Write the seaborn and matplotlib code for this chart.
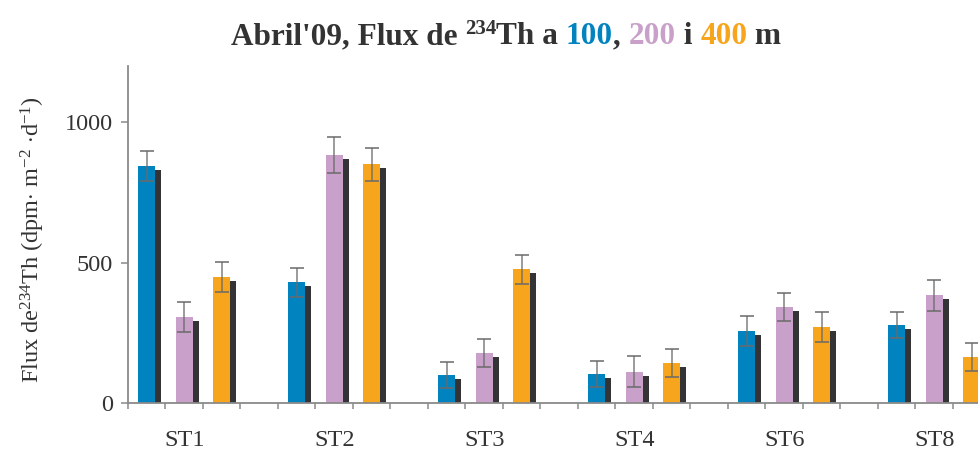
import numpy as np
import pandas as pd
import matplotlib
matplotlib.use("Agg")
import matplotlib.pyplot as plt
import matplotlib.patheffects as pe
import seaborn as sns

# data (dpm m-2 d-1)
stations = ["ST1", "ST2", "ST3", "ST4", "ST6", "ST8"]
depths = ["100", "200", "400"]
flux_100 = [845, 430, 100, 105, 258, 278]
flux_200 = [308, 885, 180, 113, 342, 384]
flux_400 = [450, 850, 477, 143, 272, 165]
err_100 = [54, 53, 46, 46, 53, 46]
err_200 = [53, 64, 50, 54, 50, 54]
err_400 = [53, 58, 52, 50, 53, 50]

colors = ["#0083BF", "#C9A0C9", "#F7A51C"]
shadow_col = "#343336"
text_col = "#333333"
axis_col = "#8a8a8a"

sns.set_theme(style="white")
plt.rcParams["font.family"] = ["Liberation Serif", "DejaVu Serif"]
plt.rcParams["mathtext.fontset"] = "custom"
plt.rcParams["mathtext.rm"] = "Liberation Serif"
plt.rcParams["mathtext.it"] = "Liberation Serif:italic"
plt.rcParams["mathtext.bf"] = "Liberation Serif:bold"

rows = []
fluxes = [flux_100, flux_200, flux_400]
errs = [err_100, err_200, err_400]
for i, st in enumerate(stations):
    for j, d in enumerate(depths):
        # 4 slots per station: 3 depths + 1 empty slot
        rows.append({"station": st, "depth": d, "slot": i * 4 + j,
                     "flux": fluxes[j][i], "err": errs[j][i]})
df = pd.DataFrame(rows)

fig = plt.figure(figsize=(9.79, 4.54), dpi=100)
ax = fig.add_axes([128 / 979, (454 - 403.3) / 454, 900 / 979, (403.3 - 66) / 454])

sns.barplot(data=df, x="slot", y="flux", hue="depth", palette=colors,
            native_scale=True, dodge=False, width=0.453, errorbar=None,
            saturation=1, linewidth=0, legend=False, ax=ax)

# dark drop shadow behind each bar
for p in ax.patches:
    p.set_path_effects([pe.SimplePatchShadow(offset=(4.3, -2.9),
                                             shadow_rgbFace=shadow_col, alpha=1.0),
                        pe.Normal()])

ax.errorbar(df["slot"], df["flux"], yerr=df["err"], fmt="none",
            ecolor="#6a6a6a", elinewidth=1.1, capsize=4.7, capthick=1.3,
            alpha=0.85, zorder=5)

ax.set_xlim(-0.5, 23.5)
ax.set_ylim(0, 1200)
ax.set_yticks([0, 500, 1000])
ax.set_xticks(np.arange(-0.5, 23.6, 1))
ax.set_xticklabels([])
ax.set_xticks([i * 4 + 1 for i in range(len(stations))], minor=True)
ax.set_xticklabels(stations, minor=True)
ax.tick_params(axis="x", which="major", direction="out", length=4.3,
               width=1.1, color=axis_col, bottom=True)
ax.tick_params(axis="x", which="minor", length=0, pad=19,
               labelsize=17.5, labelcolor=text_col)
ax.tick_params(axis="y", direction="out", length=5, width=1.1, color=axis_col,
               left=True, labelsize=17.5, labelcolor=text_col, pad=6)

sns.despine(ax=ax)
for s in ["left", "bottom"]:
    ax.spines[s].set_color(axis_col)
    ax.spines[s].set_linewidth(1.3)

ax.set_xlabel("")
ax.set_ylabel(r"Flux de$^{234}$Th (dpm$\cdot$ m$^{-2}$ $\cdot$d$^{-1}$)",
              fontsize=17.5, color=text_col)
ax.yaxis.set_label_coords(-0.09, 0.487)

# multi-coloured title built from chained pieces
title_size = 22.5
pieces = [("Th a ", text_col), ("100", colors[0]), (", ", text_col),
          ("200", colors[1]), (" i ", text_col), ("400", colors[2]),
          (" m", text_col)]
first = fig.text(0.2, (454 - 51) / 454, "Abril'09, Flux de ", fontsize=title_size,
                 fontweight="bold", color=text_col, ha="left", va="bottom")
sup = ax.annotate("234", xy=(1, 0), xycoords=first, xytext=(0, 8.8),
                  textcoords="offset points", fontsize=15, fontweight="bold",
                  color=text_col, ha="left", va="bottom", annotation_clip=False)
prev = sup
for txt, c in pieces:
    prev = ax.annotate(txt, xy=(1, 0), xycoords=(prev, first), fontsize=title_size,
                       fontweight="bold", color=c, ha="left", va="bottom",
                       annotation_clip=False)

fig.canvas.draw()
r = fig.canvas.get_renderer()
b0 = first.get_window_extent(r)
b1 = prev.get_window_extent(r)
width = b1.x1 - b0.x0
first.set_x((506 - width / 2) / 979)

fig.savefig("out.png", dpi=100)
